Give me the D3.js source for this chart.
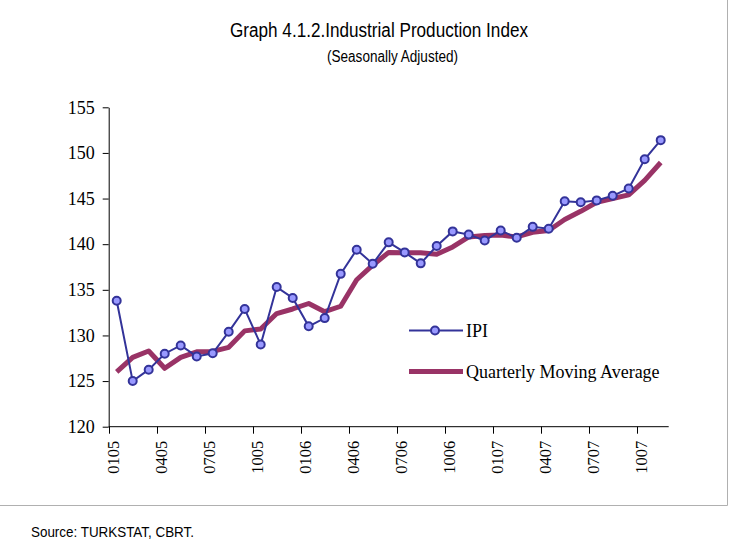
<!DOCTYPE html>
<html>
<head>
<meta charset="utf-8">
<script src="https://cdn.jsdelivr.net/npm/d3@7"></script>
<style>
  body { margin: 0; background: #fff; }
  svg { display: block; }
</style>
</head>
<body>
<div id="chart"></div>
<script>
// monthly categories, MMYY
const months = [
  "0105","0205","0305","0405","0505","0605","0705","0805","0905","1005","1105","1205",
  "0106","0206","0306","0406","0506","0606","0706","0806","0906","1006","1106","1206",
  "0107","0207","0307","0407","0507","0607","0707","0807","0907","1007","1107"
];
const tickLabels = ["0105","0405","0705","1005","0106","0406","0706","1006","0107","0407","0707","1007"];
const yTicks = [120, 125, 130, 135, 140, 145, 150, 155];

// IPI (seasonally adjusted)
const ipi = [
  133.8, 125.0, 126.25, 128.0, 128.9, 127.7, 128.05, 130.4, 132.9, 129.0, 135.3, 134.1,
  131.0, 131.9, 136.75, 139.4, 137.85, 140.2, 139.1, 137.9, 139.8, 141.4, 141.05, 140.4,
  141.5, 140.7, 141.9, 141.7, 144.7, 144.6, 144.8, 145.3, 146.1, 149.3, 151.4
];
// quarterly moving average
const movingAvg = [
  126.0, 127.6, 128.3, 126.4, 127.6, 128.2, 128.25, 128.7, 130.5, 130.7, 132.4, 132.9,
  133.5, 132.6, 133.2, 136.1, 137.7, 139.1, 139.05, 139.05, 138.9, 139.7, 140.8, 140.95,
  141.0, 140.8, 141.3, 141.5, 142.7, 143.6, 144.6, 145.0, 145.4, 147.0, 148.95
];

const width = 733, height = 549;
const plot = { left: 108.7, right: 668.7, top: 107.3, bottom: 426.7 };
const narrow = "'Liberation Sans Narrow', 'Arial Narrow', 'Liberation Sans', Arial, sans-serif";
const serif = "'Liberation Serif', 'Times New Roman', serif";

const svg = d3.select("#chart").append("svg")
  .attr("width", width)
  .attr("height", height);

// frame lines at right / bottom
svg.append("line").attr("x1", 727.5).attr("x2", 727.5).attr("y1", 0).attr("y2", 505.5)
  .attr("stroke", "#b0b0b0").attr("stroke-width", 1);
svg.append("line").attr("x1", 0).attr("x2", 727.5).attr("y1", 505.5).attr("y2", 505.5)
  .attr("stroke", "#b0b0b0").attr("stroke-width", 1);

const x = d3.scaleBand()
  .domain(months)
  .range([plot.left, plot.right])
  .padding(0);
const cx = d => x(d) + x.bandwidth() / 2;

const y = d3.scaleLinear()
  .domain([120, 155])
  .range([plot.bottom, plot.top]);

// title (narrow look via textLength)
svg.append("text")
  .attr("x", 230).attr("y", 37)
  .attr("font-family", narrow)
  .attr("font-size", 20)
  .attr("textLength", 298)
  .attr("lengthAdjust", "spacingAndGlyphs")
  .attr("fill", "#000")
  .text("Graph 4.1.2.Industrial Production Index");
svg.append("text")
  .attr("x", 327).attr("y", 62)
  .attr("font-family", narrow)
  .attr("font-size", 16)
  .attr("textLength", 131)
  .attr("lengthAdjust", "spacingAndGlyphs")
  .attr("fill", "#000")
  .text("(Seasonally Adjusted)");

// y axis
const yAxis = svg.append("g")
  .attr("transform", `translate(${plot.left},0)`)
  .call(d3.axisLeft(y).tickValues(yTicks).tickSize(6).tickPadding(8).tickSizeOuter(0));
yAxis.select(".domain").attr("stroke", "#000");
yAxis.selectAll(".tick line").attr("stroke", "#000");
yAxis.selectAll("text")
  .attr("font-family", serif)
  .attr("font-size", 18)
  .attr("fill", "#000");

// x axis: ticks at category boundaries every 3 months
const xAxis = svg.append("g").attr("transform", `translate(0,${plot.bottom})`);
xAxis.append("line")
  .attr("x1", plot.left).attr("x2", plot.right)
  .attr("y1", 0).attr("y2", 0)
  .attr("stroke", "#000");
xAxis.selectAll(".xtick")
  .data(tickLabels)
  .join("line")
  .attr("class", "xtick")
  .attr("x1", d => Math.round(x(d)) + 0.5).attr("x2", d => Math.round(x(d)) + 0.5)
  .attr("y1", 0).attr("y2", 7)
  .attr("stroke", "#000");
xAxis.selectAll(".xlabel")
  .data(tickLabels)
  .join("text")
  .attr("class", "xlabel")
  .attr("transform", d => `translate(${cx(d) + 2},14) rotate(-90)`)
  .attr("text-anchor", "end")
  .attr("font-family", serif)
  .attr("font-size", 16.5)
  .attr("fill", "#000")
  .text(d => d);

// moving average
const seriesLine = d3.line()
  .x((d, i) => cx(months[i]))
  .y(d => y(d));
svg.append("path")
  .datum(movingAvg)
  .attr("d", seriesLine)
  .attr("fill", "none")
  .attr("stroke", "#993366")
  .attr("stroke-width", 5)
  .attr("stroke-linejoin", "round");

// IPI
svg.append("path")
  .datum(ipi)
  .attr("d", seriesLine)
  .attr("fill", "none")
  .attr("stroke", "#333399")
  .attr("stroke-width", 2);
svg.selectAll(".ipi-dot")
  .data(ipi)
  .join("circle")
  .attr("class", "ipi-dot")
  .attr("cx", (d, i) => cx(months[i]))
  .attr("cy", d => y(d))
  .attr("r", 4)
  .attr("fill", "#9999ff")
  .attr("stroke", "#333399")
  .attr("stroke-width", 2);

// legend
const legend = svg.append("g");
legend.append("line")
  .attr("x1", 409).attr("x2", 463).attr("y1", 330.5).attr("y2", 330.5)
  .attr("stroke", "#333399").attr("stroke-width", 2);
legend.append("circle")
  .attr("cx", 435).attr("cy", 330.5).attr("r", 4)
  .attr("fill", "#9999ff").attr("stroke", "#333399").attr("stroke-width", 2);
legend.append("text")
  .attr("x", 466).attr("y", 336.5)
  .attr("font-family", serif)
  .attr("font-size", 18)
  .text("IPI");
legend.append("line")
  .attr("x1", 409).attr("x2", 463).attr("y1", 371.5).attr("y2", 371.5)
  .attr("stroke", "#993366").attr("stroke-width", 5);
legend.append("text")
  .attr("x", 466).attr("y", 377.5)
  .attr("font-family", serif)
  .attr("font-size", 18)
  .text("Quarterly Moving Average");

// source note
svg.append("text")
  .attr("x", 31).attr("y", 537)
  .attr("font-family", narrow)
  .attr("font-size", 15)
  .attr("textLength", 163)
  .attr("lengthAdjust", "spacingAndGlyphs")
  .attr("fill", "#000")
  .text("Source: TURKSTAT, CBRT.");
</script>
</body>
</html>
